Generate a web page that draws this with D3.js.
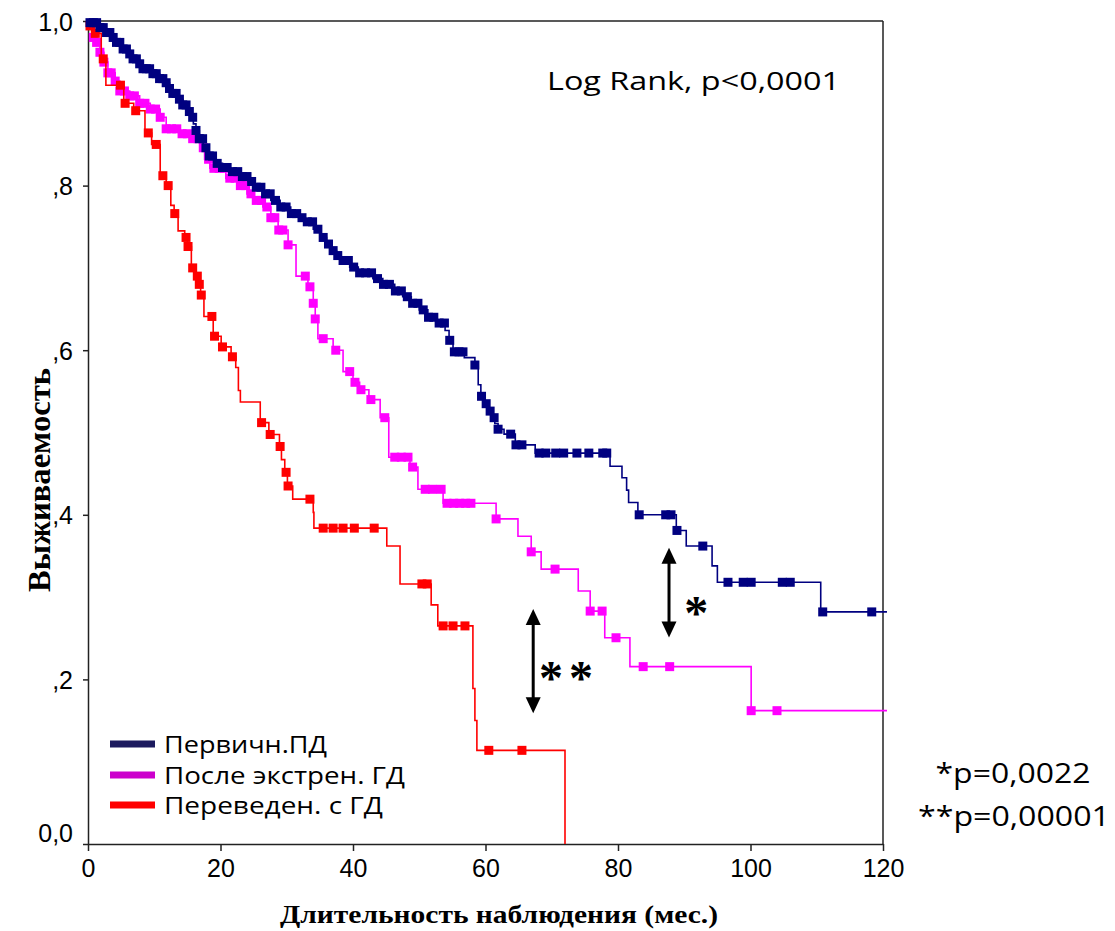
<!DOCTYPE html>
<html>
<head>
<meta charset="utf-8">
<script src="https://cdn.jsdelivr.net/npm/d3@7"></script>
<style>
  body { margin: 0; background: #fff; }
  svg { display: block; }
</style>
</head>
<body>
<svg id="chart" width="1115" height="931"></svg>
<script>
// ---- Data (months, survival) ----
const xTicks = [0, 20, 40, 60, 80, 100, 120];
const yTicks = [0, 0.2, 0.4, 0.6, 0.8, 1.0];
const yTickLabels = ['0,0', ',2', ',4', ',6', ',8', '1,0'];
const seriesNames = ['Первичн.ПД', 'После экстрен. ГД', 'Переведен. с ГД'];

// step points: [time of drop, survival after drop]
const navySteps = [
  [0.3,0.998],[1.5,0.992],[2.7,0.986],[3.5,0.98],[4.2,0.974],[5.3,0.966],[6.0,0.96],[6.8,0.954],
  [7.5,0.948],[8.3,0.942],[9.8,0.936],[10.8,0.93],[11.8,0.925],[12.3,0.918],[12.8,0.912],[13.5,0.905],
  [14.3,0.898],[15.0,0.89],[15.4,0.883],[15.9,0.875],[16.3,0.867],[16.8,0.857],[17.4,0.846],[18.2,0.836],
  [19.2,0.827],[20.3,0.822],[21.4,0.817],[23.1,0.811],[24.2,0.805],[25.2,0.798],[26.4,0.79],[27.6,0.782],
  [29.0,0.774],[30.6,0.766],[32.0,0.761],[32.8,0.756],[34.0,0.747],[35.2,0.737],[36.0,0.729],[36.7,0.721],
  [37.5,0.715],[38.2,0.709],[39.5,0.701],[40.8,0.694],[43.0,0.687],[44.5,0.68],[46.3,0.672],[47.5,0.665],
  [48.8,0.657],[50.0,0.649],[51.3,0.64],[52.5,0.633],[53.9,0.624],[54.5,0.612],[55.1,0.598],[56.8,0.591],
  [58.4,0.582],[58.9,0.558],[59.3,0.544],[59.9,0.535],[60.4,0.526],[61.0,0.518],[61.4,0.511],[61.9,0.504],
  [62.8,0.498],[64.5,0.485],[67.5,0.475],[78.8,0.459],[80.6,0.445],[81.3,0.43],[81.6,0.415],[83.0,0.40],
  [88.8,0.381],[90.3,0.362],[94.2,0.338],[95.0,0.318],[110.6,0.282]
];
const navyCensor = [
  0.3,0.8,1.3,1.8,2.3,2.8,3.3,3.8,4.3,4.8,5.3,5.8,6.3,6.8,7.3,7.8,8.3,8.8,9.3,9.8,10.3,10.8,11.3,11.8,
  12.3,12.8,13.3,13.8,14.3,14.8,15.3,15.8,16.3,16.8,17.3,17.8,18.3,18.8,19.5,20.3,21.0,21.8,22.6,23.3,
  24.0,24.7,25.4,26.1,26.8,27.5,28.3,29.1,29.9,30.7,31.5,32.3,33.1,33.9,34.7,35.5,36.3,37.0,37.7,38.5,
  39.3,40.1,41.0,41.9,42.8,43.7,44.6,45.5,46.4,47.3,48.2,49.0,49.8,50.6,51.4,52.2,53.0,53.8,54.6,55.3,
  56.0,56.6,58.4,59.4,60.1,60.7,61.3,61.9,63.8,64.6,65.5,68.1,69.1,70.6,71.8,73.8,75.6,77.7,78.3,
  83.2,87.2,88.0,88.9,92.8,96.6,98.9,100.1,104.8,106.0,110.9,118.3
];

const magentaSteps = [
  [0.75,0.98],[1.2,0.974],[1.8,0.962],[2.4,0.95],[3.0,0.937],[4.1,0.927],[4.8,0.915],[6.3,0.909],
  [7.8,0.90],[9.4,0.893],[10.9,0.883],[11.8,0.869],[13.9,0.863],[15.4,0.857],[16.9,0.846],[17.6,0.832],
  [18.4,0.821],[20.8,0.809],[22.9,0.80],[24.0,0.79],[24.9,0.782],[26.4,0.774],[27.6,0.761],[28.7,0.746],
  [30.2,0.728],[31.4,0.69],[33.2,0.677],[34.0,0.657],[34.3,0.638],[34.7,0.614],[37.0,0.60],[38.5,0.574],
  [40.0,0.561],[41.0,0.552],[42.4,0.54],[44.1,0.518],[45.4,0.47],[48.6,0.458],[49.8,0.431],[53.6,0.414],
  [61.6,0.395],[64.9,0.374],[66.9,0.355],[68.4,0.334],[74.0,0.3075],[75.8,0.283],[78.0,0.2506],
  [81.8,0.2155],[100.1,0.162]
];
const magentaCensor = [
  0.8,1.3,1.8,2.4,3.0,3.5,4.1,4.8,5.5,6.3,7.0,7.8,8.6,9.4,10.2,10.9,11.8,12.6,13.4,14.2,15.0,15.8,
  16.6,17.4,18.2,19.0,19.8,20.6,21.4,22.2,23.0,23.8,24.6,25.4,26.2,27.0,27.6,28.2,28.8,29.4,30.2,
  32.8,33.5,34.0,34.3,35.5,37.4,39.5,40.3,41.2,42.7,44.8,46.3,47.3,48.3,49.0,50.9,52.0,53.3,54.2,
  55.2,56.1,57.0,57.8,61.6,66.9,70.5,75.8,77.6,79.7,83.8,87.8,100.1,104.0
];

const redSteps = [
  [0.3,0.994],[1.0,0.985],[2.0,0.954],[2.7,0.922],[5.4,0.90],[6.9,0.891],[8.6,0.864],[9.6,0.85],
  [10.9,0.812],[11.8,0.80],[12.5,0.776],[13.0,0.766],[13.6,0.745],[14.6,0.737],[15.0,0.726],[15.6,0.70],
  [16.3,0.69],[16.7,0.68],[17.0,0.667],[17.5,0.641],[18.9,0.617],[20.1,0.604],[21.6,0.592],[22.3,0.579],
  [22.7,0.551],[23.0,0.537],[26.0,0.512],[27.3,0.4976],[28.9,0.483],[29.2,0.467],[29.7,0.4516],
  [30.1,0.435],[30.9,0.419],[34.0,0.403],[34.1,0.3838],[45.1,0.362],[47.1,0.316],[51.8,0.2906],
  [52.8,0.265],[58.1,0.189],[58.4,0.150],[58.7,0.1138],[72.0,0]
];
const redCensor = [
  0.3,1.1,2.3,4.9,5.6,7.2,9.1,10.3,11.3,12.1,13.1,14.8,15.1,15.8,16.5,16.8,17.1,18.7,19.1,20.3,21.8,
  26.2,27.5,29.0,29.9,30.2,33.5,35.5,37.0,38.5,40.2,43.2,50.4,51.2,53.6,55.1,56.9,60.5,65.5
];

// annotation arrows: [time, survival top, survival bottom]
const arrows = [[87.7, 0.36, 0.251], [67.2, 0.2855, 0.159]];

// ---- Render ----
const svg = d3.select('#chart');
const x = d3.scaleLinear().domain([0, 120]).range([88, 883]);
const y = d3.scaleLinear().domain([0, 1]).range([844, 21]);

const series = [
  { name: seriesNames[1], steps: magentaSteps, censor: magentaCensor, color: '#ff00ff', legend: '#cc00cc', end: 120.6 },
  { name: seriesNames[2], steps: redSteps,     censor: redCensor,     color: '#ff0000', legend: '#ff0000', end: null },
  { name: seriesNames[0], steps: navySteps,    censor: navyCensor,    color: '#000080', legend: '#1c1a5e', end: 120.6 }
];

function survivalAt(steps, t) {
  let s = 1;
  for (const [st, sv] of steps) { if (st <= t) s = sv; else break; }
  return s;
}

// frame
svg.append('line').attr('x1', 88).attr('x2', 883).attr('y1', 21).attr('y2', 21)
  .attr('stroke', '#222').attr('stroke-width', 1.5);
svg.append('line').attr('x1', 883).attr('x2', 883).attr('y1', 21).attr('y2', 844)
  .attr('stroke', '#222').attr('stroke-width', 1.5);

// axes
const yAxis = svg.append('g').attr('transform', 'translate(88,0)')
  .call(d3.axisLeft(y).tickValues(yTicks).tickFormat((d, i) => yTickLabels[i]).tickSize(5).tickSizeOuter(0).tickPadding(10));
const xAxis = svg.append('g').attr('transform', 'translate(0,844)')
  .call(d3.axisBottom(x).tickValues(xTicks).tickFormat(d => d).tickSize(7).tickSizeOuter(0).tickPadding(8));

[yAxis, xAxis].forEach(a => {
  a.select('.domain').attr('stroke', '#222').attr('stroke-width', 1.5);
  a.selectAll('.tick line').attr('stroke', '#222').attr('stroke-width', 1.5);
  a.selectAll('.tick text').attr('fill', '#000')
    .attr('font-family', 'Liberation Sans, Arial, sans-serif').attr('font-size', '25px');
});
yAxis.selectAll('.tick text').filter(d => d === 0).attr('dy', '-0.12em');
yAxis.selectAll('.tick text').filter(d => d !== 0).attr('dy', '0.36em');

// curves
const line = d3.line().x(d => x(d[0])).y(d => y(d[1])).curve(d3.curveStepAfter);
series.forEach(s => {
  const pts = [[0, 1], ...s.steps];
  if (s.end) pts.push([s.end, s.steps[s.steps.length - 1][1]]);
  const g = svg.append('g');
  g.append('path').attr('d', line(pts)).attr('fill', 'none')
    .attr('stroke', s.color).attr('stroke-width', 1.6);
  g.selectAll('rect').data(s.censor).join('rect')
    .attr('x', t => x(t) - 4.5).attr('y', t => y(survivalAt(s.steps, t)) - 4.5)
    .attr('width', 9).attr('height', 9).attr('fill', s.color);
});

// arrows
arrows.forEach(([t, s1, s2]) => {
  const ax = x(t), y1 = y(s1), y2 = y(s2);
  svg.append('line').attr('x1', ax).attr('x2', ax).attr('y1', y1 + 12).attr('y2', y2 - 12)
    .attr('stroke', '#000').attr('stroke-width', 3);
  svg.append('path').attr('d', `M${ax},${y1} L${ax - 7.5},${y1 + 16} L${ax + 7.5},${y1 + 16} Z`).attr('fill', '#000');
  svg.append('path').attr('d', `M${ax},${y2} L${ax - 7.5},${y2 - 16} L${ax + 7.5},${y2 - 16} Z`).attr('fill', '#000');
});

const serif = 'Liberation Serif, Times New Roman, serif';
const sans = 'Open Sans, Noto Sans, sans-serif';

svg.append('text').attr('x', x(91.8)).attr('y', y(0.29) + 24).attr('text-anchor', 'middle')
  .attr('font-family', serif).attr('font-weight', 'bold').attr('font-size', 48).text('*');
svg.append('text').attr('x', x(72.6)).attr('y', y(0.212) + 24).attr('text-anchor', 'middle')
  .attr('font-family', serif).attr('font-weight', 'bold').attr('font-size', 48)
  .attr('letter-spacing', 6).text('**');

// texts
svg.append('text').attr('x', 547).attr('y', 90).attr('font-family', sans).attr('font-size', 25)
  .attr('textLength', 293).attr('lengthAdjust', 'spacingAndGlyphs').text('Log Rank, p<0,0001');
svg.append('text').attr('x', 1013).attr('y', 783).attr('text-anchor', 'middle').attr('font-family', sans)
  .attr('font-size', 27).attr('textLength', 155).attr('lengthAdjust', 'spacingAndGlyphs').text('*p=0,0022');
svg.append('text').attr('x', 1014).attr('y', 826).attr('text-anchor', 'middle').attr('font-family', sans)
  .attr('font-size', 27).attr('textLength', 192).attr('lengthAdjust', 'spacingAndGlyphs').text('**p=0,00001');

svg.append('text').attr('x', 499).attr('y', 923).attr('text-anchor', 'middle').attr('font-family', serif)
  .attr('font-weight', 'bold').attr('font-size', 25).attr('textLength', 438).attr('lengthAdjust', 'spacingAndGlyphs')
  .text('Длительность наблюдения (мес.)');
svg.append('text').attr('transform', 'translate(50,480) rotate(-90)').attr('text-anchor', 'middle')
  .attr('font-family', serif).attr('font-weight', 'bold').attr('font-size', 31)
  .attr('textLength', 224).attr('lengthAdjust', 'spacingAndGlyphs').text('Выживаемость');

// legend
const legendOrder = [series[2], series[0], series[1]];
const legendY = [744, 775, 805];
const legendW = [163, 241, 219];
const legend = svg.append('g');
legendOrder.forEach((s, i) => {
  legend.append('line').attr('x1', 110).attr('x2', 155).attr('y1', legendY[i]).attr('y2', legendY[i])
    .attr('stroke', s.legend).attr('stroke-width', 7);
  legend.append('text').attr('x', 164).attr('y', legendY[i] + 9).attr('font-family', sans).attr('font-size', 24)
    .attr('textLength', legendW[i]).attr('lengthAdjust', 'spacingAndGlyphs').text(s.name);
});
</script>
</body>
</html>
